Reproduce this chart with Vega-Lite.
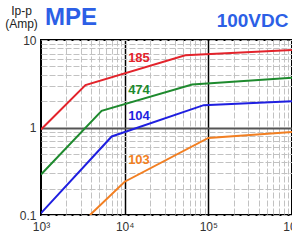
{
  "$schema": "https://vega.github.io/schema/vega-lite/v6.json",
  "width": 251,
  "height": 175,
  "autosize": "none",
  "padding": {"left": 41, "top": 40, "right": 0, "bottom": 27},
  "background": "white",
  "title": {"text": "MPE", "anchor": "start", "frame": "group", "orient": "top", "offset": 0, "dx": 4, "dy": 45, "baseline": "alphabetic", "font": "Liberation Sans", "fontSize": 24, "fontWeight": "bold", "color": "#2c5fe6"},
  "config": {"view": {"stroke": "black", "strokeWidth": 2}, "font": "Liberation Sans"},
  "datasets": {
    "curves": [
      {"model": "185", "freq": 1000, "amp": 0.95},
      {"model": "185", "freq": 3400, "amp": 3.05},
      {"model": "185", "freq": 53000, "amp": 6.7},
      {"model": "185", "freq": 1000000, "amp": 7.7},
      {"model": "474", "freq": 1000, "amp": 0.29},
      {"model": "474", "freq": 5300, "amp": 1.55},
      {"model": "474", "freq": 64000, "amp": 3.1},
      {"model": "474", "freq": 1000000, "amp": 3.7},
      {"model": "104", "freq": 1000, "amp": 0.105},
      {"model": "104", "freq": 7000, "amp": 0.79},
      {"model": "104", "freq": 88000, "amp": 1.8},
      {"model": "104", "freq": 1000000, "amp": 2.0},
      {"model": "103", "freq": 3850, "amp": 0.1},
      {"model": "103", "freq": 10000, "amp": 0.24},
      {"model": "103", "freq": 100000, "amp": 0.76},
      {"model": "103", "freq": 1000000, "amp": 0.89}
    ],
    "labels": [
      {"model": "185", "freq": 11000, "amp": 6.2},
      {"model": "474", "freq": 11000, "amp": 2.68},
      {"model": "104", "freq": 11000, "amp": 1.35},
      {"model": "103", "freq": 11000, "amp": 0.425}
    ]
  },
  "resolve": {"axis": {"x": "independent"}},
  "layer": [
    {
      "data": {"name": "curves"},
      "mark": {"type": "line", "strokeWidth": 2, "clip": true},
      "encoding": {
        "x": {
          "field": "freq", "type": "quantitative",
          "scale": {"type": "log", "domain": [1000, 1000000], "nice": false},
          "axis": {
            "orient": "bottom",
            "title": null,
            "values": [1000, 2000, 3000, 4000, 5000, 6000, 7000, 8000, 9000, 10000, 20000, 30000, 40000, 50000, 60000, 70000, 80000, 90000, 100000, 200000, 300000, 400000, 500000, 600000, 700000, 800000, 900000, 1000000],
            "labelExpr": "datum.value == 1000 ? '10³' : datum.value == 10000 ? '10⁴' : datum.value == 100000 ? '10⁵' : datum.value == 1000000 ? '10⁶' : ''",
            "labelOverlap": false,
            "labelFlush": false,
            "labelFont": "Liberation Sans",
            "labelFontSize": 12,
            "labelColor": "#333333",
            "labelBaseline": "top",
            "labelPadding": 6,
            "ticks": false,
            "domain": false,
            "grid": true,
            "gridColor": {"condition": {"test": "datum.value == 10000 || datum.value == 100000 || datum.value == 1000 || datum.value == 1000000", "value": "#000000"}, "value": "#c2c2c2"},
            "gridWidth": {"condition": {"test": "datum.value == 10000 || datum.value == 100000", "value": 1.5}, "value": 1},
            "gridDash": {"condition": {"test": "datum.value == 10000 || datum.value == 100000", "value": []}, "value": [6, 2]}
          }
        },
        "y": {
          "field": "amp", "type": "quantitative",
          "scale": {"type": "log", "domain": [0.1, 10], "nice": false},
          "axis": {
            "title": ["Ip-p", "(Amp)"],
            "titleAngle": 0,
            "titleAlign": "center",
            "titleBaseline": "alphabetic",
            "titleX": -20,
            "titleY": -26,
            "titleLineHeight": 13,
            "titleFont": "Liberation Sans",
            "titleFontSize": 12,
            "titleFontWeight": "normal",
            "titleColor": "#222222",
            "values": [0.1, 0.2, 0.3, 0.4, 0.5, 0.6, 0.7, 0.8, 0.9, 1, 2, 3, 4, 5, 6, 7, 8, 9, 10],
            "labelExpr": "datum.value == 0.1 ? '0.1' : datum.value == 1 ? '1' : datum.value == 10 ? '10' : ''",
            "labelOverlap": false,
            "labelFont": "Liberation Sans",
            "labelFontSize": 12,
            "labelColor": "#333333",
            "labelPadding": 5,
            "ticks": false,
            "domain": false,
            "grid": true,
            "gridColor": {"condition": {"test": "datum.value == 1", "value": "#555555"}, "value": "#c2c2c2"},
            "gridWidth": {"condition": {"test": "datum.value == 1", "value": 2}, "value": 1},
            "gridDash": {"condition": {"test": "datum.value == 1", "value": []}, "value": [6, 2]}
          }
        },
        "color": {
          "field": "model", "type": "nominal",
          "scale": {"domain": ["185", "474", "104", "103"], "range": ["#e3232b", "#1e8a2e", "#1f1fe0", "#f27f22"]},
          "legend": null
        }
      }
    },
    {
      "data": {"name": "labels"},
      "mark": {"type": "text", "align": "left", "baseline": "middle", "font": "Liberation Sans", "fontSize": 13, "fontWeight": "bold"},
      "encoding": {
        "x": {
          "field": "freq", "type": "quantitative",
          "scale": {"type": "log", "domain": [1000, 1000000], "nice": false},
          "axis": {
            "orient": "top",
            "title": "100VDC",
            "titleAnchor": "end",
            "titleAlign": "right",
            "titleBaseline": "alphabetic",
            "titleX": 247,
            "titleY": -14,
            "titleFont": "Liberation Sans",
            "titleFontSize": 19,
            "titleFontWeight": "bold",
            "titleColor": "#2c5fe6",
            "labels": false,
            "ticks": false,
            "domain": false,
            "grid": false
          }
        },
        "y": {"field": "amp", "type": "quantitative"},
        "text": {"field": "model"},
        "color": {"field": "model", "type": "nominal", "legend": null}
      }
    }
  ]
}
